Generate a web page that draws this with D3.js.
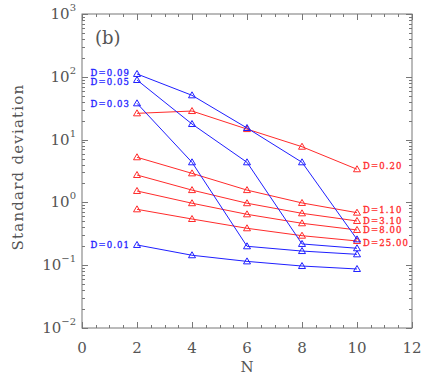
<!DOCTYPE html>
<html><head><meta charset="utf-8">
<script src="https://cdn.jsdelivr.net/npm/d3@7/dist/d3.min.js"></script>
<style>body{margin:0;background:#fff}svg{display:block}</style>
</head><body>
<svg id="c" width="436" height="382"></svg>
<script>
const N = [2, 4, 6, 8, 10];
const blueLabels = ["D=0.09", "D=0.05", "D=0.03", "D=0.01"];
const blueValues = [
  [111, 50.7, 15.3, 4.35, 0.258],
  [88.9, 17.7, 4.35, 0.218, 0.186],
  [37.8, 4.35, 0.200, 0.168, 0.149],
  [0.210, 0.144, 0.115, 0.097, 0.087]
];
const redLabels = ["D=0.20", "D=1.10", "D=3.10", "D=8.00", "D=25.00"];
const redValues = [
  [26.2, 28.5, 14.7, 7.7, 3.37],
  [5.23, 2.90, 1.57, 0.98, 0.686],
  [2.73, 1.57, 0.97, 0.67, 0.506],
  [1.52, 0.97, 0.646, 0.465, 0.364],
  [0.776, 0.544, 0.387, 0.295, 0.243]
];
const xTicks = [0, 2, 4, 6, 8, 10, 12];
const yExponents = [-2, -1, 0, 1, 2, 3];
const panelLabel = "(b)";
const xTitle = "N";
const yTitle = "Standard deviation";

const BLUE = "#1f1fff", RED = "#ff2b2b", AX = "#777", TX = "#555";
const FONT = "DejaVu Serif, Liberation Serif, serif";
const svg = d3.select("#c");
const L = 82, R = 412, T = 14, B = 328;
const x = d3.scaleLinear().domain([0, 12]).range([L, R]);
const y = d3.scaleLog().domain([1e-2, 1e3]).range([B, T]);

// frame
svg.append("rect").attr("x", L).attr("y", T).attr("width", R - L).attr("height", B - T)
  .attr("fill", "none").attr("stroke", AX).attr("stroke-width", 1);

// ticks (inward, mirrored)
const g = svg.append("g").attr("stroke", AX).attr("stroke-width", 1);
const xMinor = d3.range(0, 12.01, 0.5);
xMinor.forEach(v => {
  const major = Math.abs(v % 2) < 1e-9;
  const len = major ? 6 : 3;
  const px = Math.round(x(v)) + 0.5;
  g.append("line").attr("x1", px).attr("x2", px).attr("y1", B).attr("y2", B - len);
  g.append("line").attr("x1", px).attr("x2", px).attr("y1", T).attr("y2", T + len);
});
for (let e = -2; e <= 3; e++) {
  for (let m = 1; m <= 9; m++) {
    if (e === 3 && m > 1) break;
    const v = m * Math.pow(10, e);
    const len = m === 1 ? 6 : 3;
    const py = Math.round(y(v)) + 0.5;
    g.append("line").attr("x1", L).attr("x2", L + len).attr("y1", py).attr("y2", py);
    g.append("line").attr("x1", R).attr("x2", R - len).attr("y1", py).attr("y2", py);
  }
}

// x tick labels
svg.append("g").selectAll("text").data(xTicks).join("text")
  .attr("x", d => x(d)).attr("y", 353).attr("text-anchor", "middle")
  .attr("font-family", FONT).attr("font-size", 15).attr("fill", TX).text(d => d);

// y tick labels
yExponents.forEach(e => {
  const t = svg.append("text").attr("x", 76).attr("y", y(Math.pow(10, e)) + 5)
    .attr("text-anchor", "end").attr("font-family", FONT).attr("fill", TX);
  t.append("tspan").attr("font-size", 15).text("10");
  t.append("tspan").attr("font-size", 10).attr("dy", -8).text(e < 0 ? "\u2212" + (-e) : e);
});

// titles
svg.append("text").attr("x", x(6)).attr("y", 372).attr("text-anchor", "middle")
  .attr("font-family", FONT).attr("font-size", 15).attr("fill", TX).text(xTitle);
svg.append("text").attr("transform", `translate(23,167) rotate(-90)`)
  .attr("text-anchor", "middle").attr("font-family", FONT).attr("font-size", 15)
  .attr("letter-spacing", 1.2).attr("fill", TX).text(yTitle);
svg.append("text").attr("x", 95).attr("y", 44).attr("font-family", FONT)
  .attr("font-size", 18).attr("fill", TX).text(panelLabel);

const line = d3.line().x((d, i) => x(N[i])).y(d => y(d));
function tri(cx, cy) {
  return `M${cx},${cy - 3.5}L${cx + 3.5},${cy + 2.5}L${cx - 3.5},${cy + 2.5}Z`;
}
function drawSeries(vals, color) {
  svg.append("path").datum(vals).attr("d", line).attr("fill", "none")
    .attr("stroke", color).attr("stroke-width", 1);
  svg.append("g").selectAll("path").data(vals).join("path")
    .attr("d", (d, i) => tri(x(N[i]), y(d))).attr("fill", "none")
    .attr("stroke", color).attr("stroke-width", 1);
}
redValues.forEach(v => drawSeries(v, RED));
blueValues.forEach(v => drawSeries(v, BLUE));

// labels
function label(xp, yp, txt, color, anchor) {
  svg.append("text").attr("x", xp).attr("y", yp)
    .attr("text-anchor", anchor).attr("font-family", FONT).attr("font-size", 8.5)
    .attr("letter-spacing", 1.1).attr("fill", color)
    .attr("stroke", color).attr("stroke-width", 0.3).text(txt);
}
const blueDy = [-1.5, 2, 0, 0];
blueValues.forEach((v, i) => label(x(N[0]) - 7, y(v[0]) + blueDy[i] + 3.2, blueLabels[i], BLUE, "end"));
const redDy = [-3, -2.5, -0.5, 0, 1.5];
redValues.forEach((v, i) => label(x(N[4]) + 6, y(v[4]) + redDy[i] + 3.2, redLabels[i], RED, "start"));
</script>
</body></html>
